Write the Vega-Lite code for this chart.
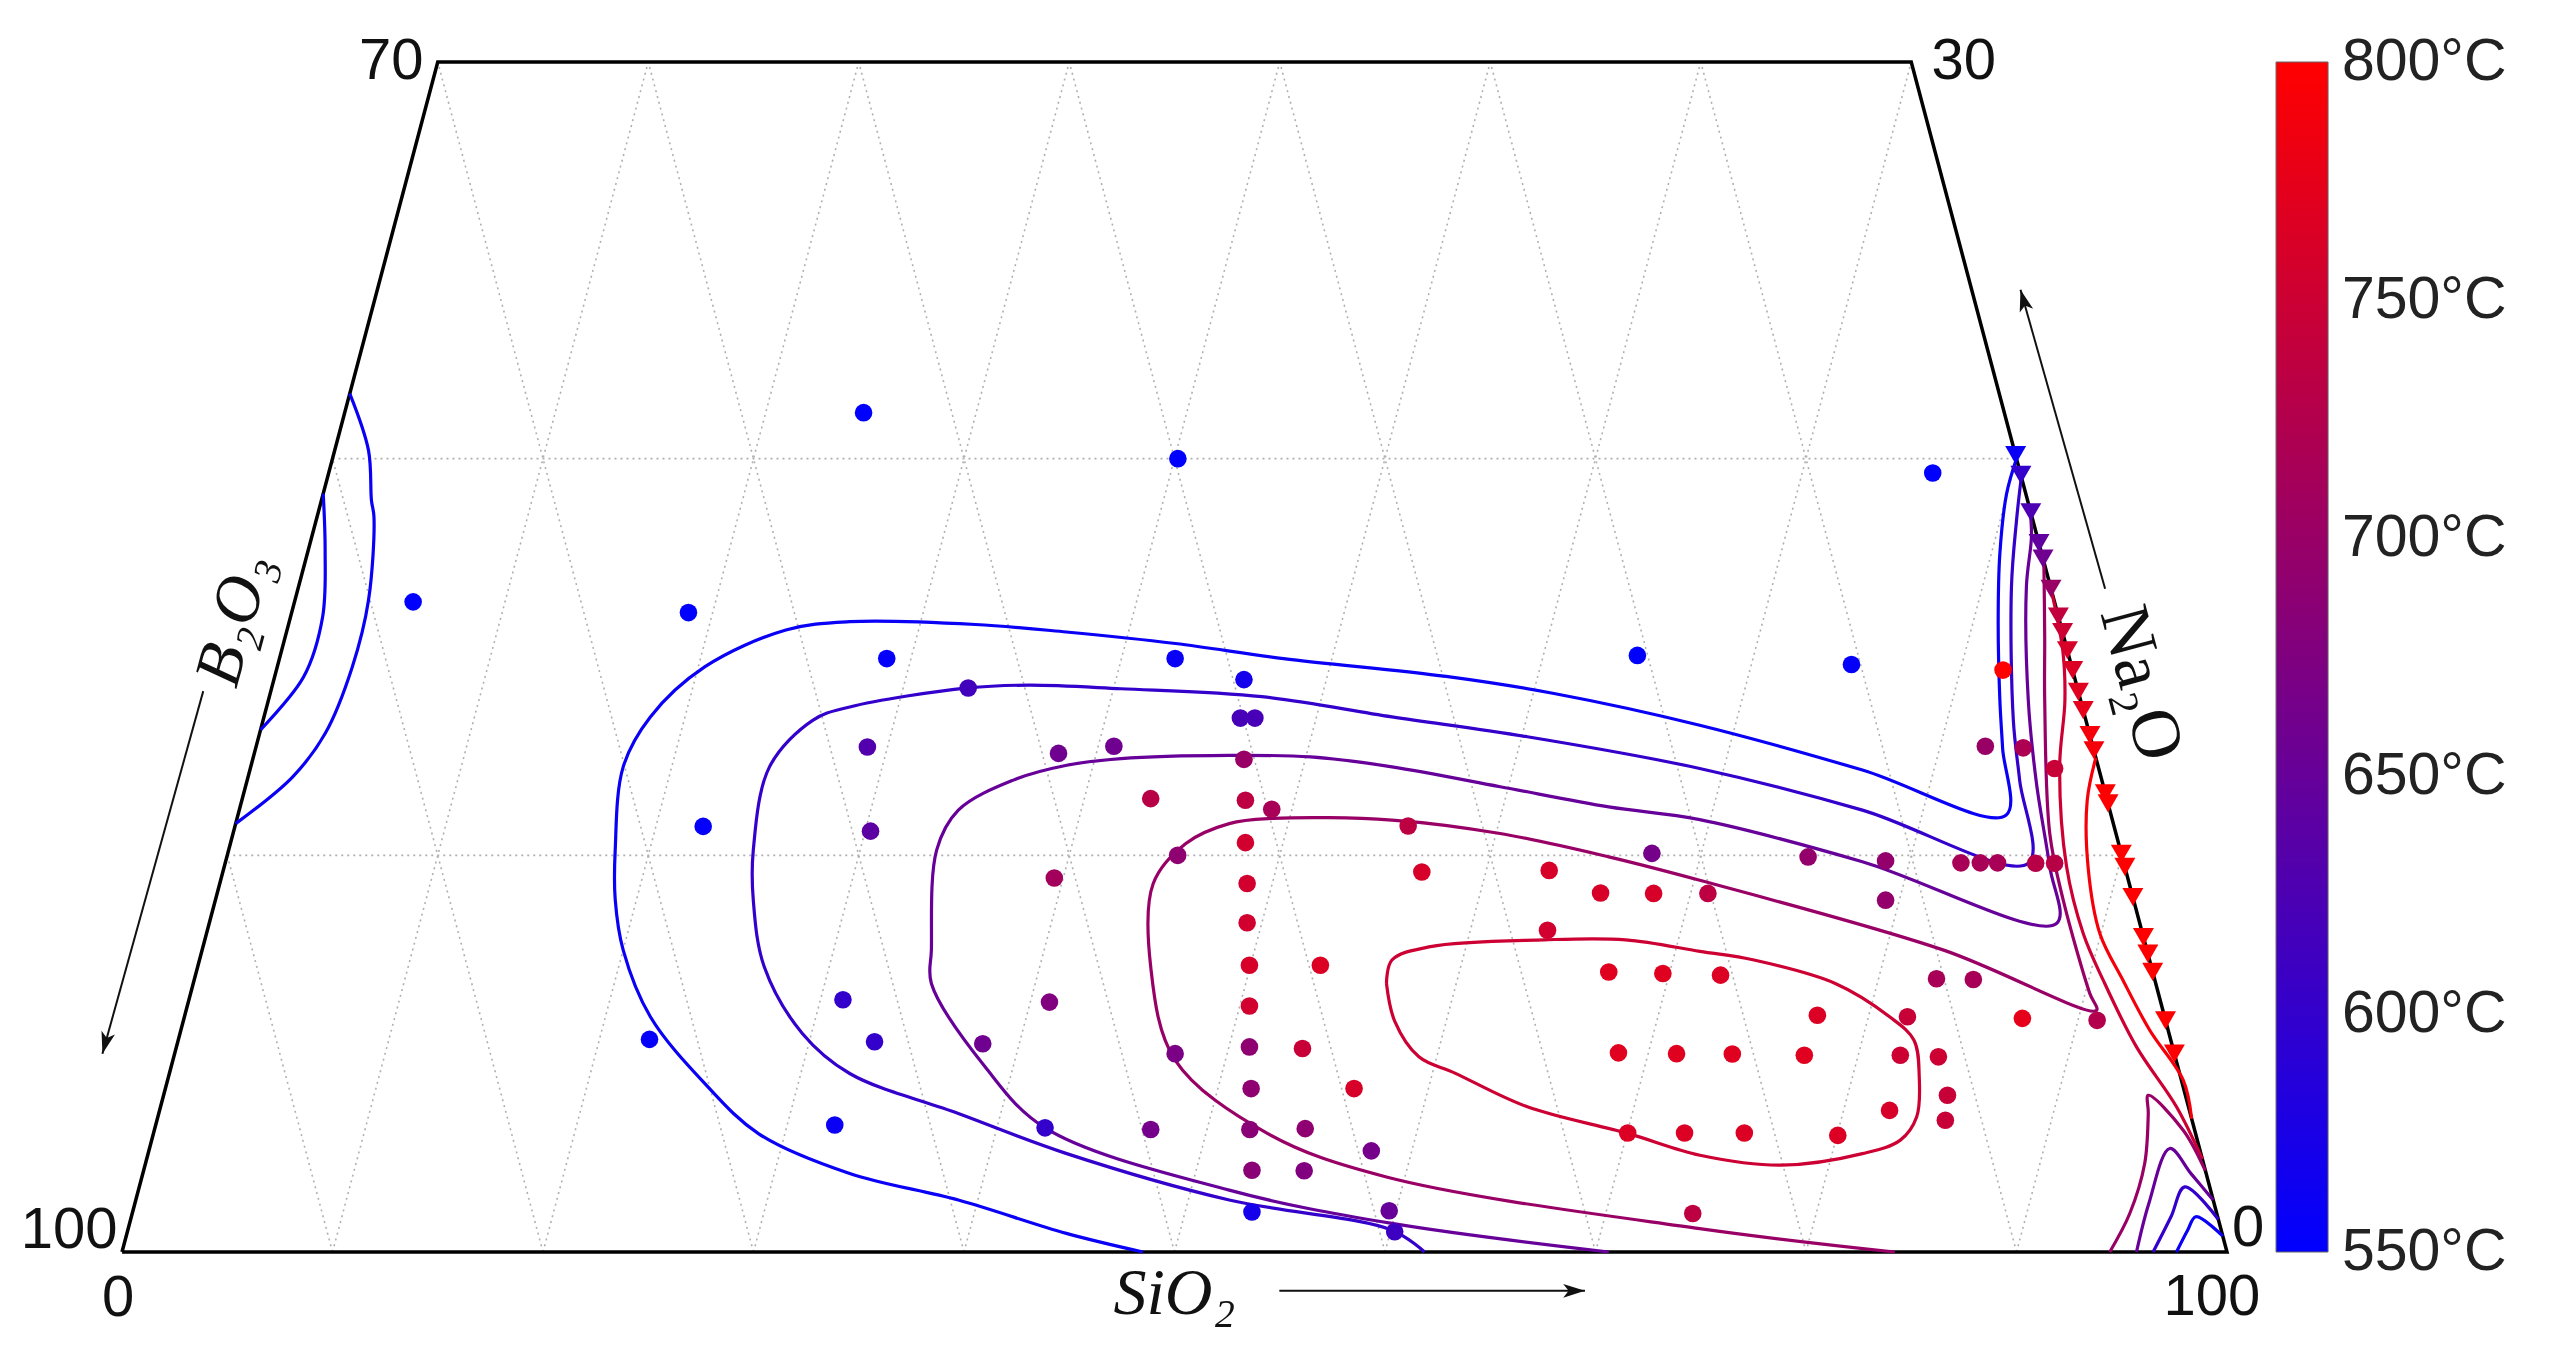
{
  "$schema": "https://vega.github.io/schema/vega-lite/v6.json",
  "width": 2105,
  "height": 1190,
  "autosize": {"type": "none"},
  "padding": {"left": 122, "top": 62, "right": 322, "bottom": 100},
  "background": "#ffffff",
  "config": {"view": {"stroke": null}},
  "resolve": {"scale": {"y": "independent"}},
  "datasets": {
    "gridlines": [
      {"g": "h10", "x": 5, "y": 10, "x2": 95, "y2": 10},
      {"g": "h20", "x": 10, "y": 20, "x2": 90, "y2": 20},
      {"g": "s10", "x": 10, "y": 0, "x2": 25, "y2": 30},
      {"g": "s20", "x": 20, "y": 0, "x2": 35, "y2": 30},
      {"g": "s30", "x": 30, "y": 0, "x2": 45, "y2": 30},
      {"g": "s40", "x": 40, "y": 0, "x2": 55, "y2": 30},
      {"g": "s50", "x": 50, "y": 0, "x2": 65, "y2": 30},
      {"g": "s60", "x": 60, "y": 0, "x2": 75, "y2": 30},
      {"g": "s70", "x": 70, "y": 0, "x2": 85, "y2": 30},
      {"g": "s80", "x": 80, "y": 0, "x2": 90, "y2": 20},
      {"g": "s90", "x": 90, "y": 0, "x2": 95, "y2": 10},
      {"g": "b90", "x": 10, "y": 0, "x2": 5, "y2": 10},
      {"g": "b80", "x": 20, "y": 0, "x2": 10, "y2": 20},
      {"g": "b70", "x": 30, "y": 0, "x2": 15, "y2": 30},
      {"g": "b60", "x": 40, "y": 0, "x2": 25, "y2": 30},
      {"g": "b50", "x": 50, "y": 0, "x2": 35, "y2": 30},
      {"g": "b40", "x": 60, "y": 0, "x2": 45, "y2": 30},
      {"g": "b30", "x": 70, "y": 0, "x2": 55, "y2": 30},
      {"g": "b20", "x": 80, "y": 0, "x2": 65, "y2": 30},
      {"g": "b10", "x": 90, "y": 0, "x2": 75, "y2": 30}
    ],
    "frame": [
      {"i": 0, "x": 0, "y": 0},
      {"i": 1, "x": 100, "y": 0},
      {"i": 2, "x": 85, "y": 30},
      {"i": 3, "x": 15, "y": 30},
      {"i": 4, "x": 0, "y": 0}
    ],
    "contours": [
      {"c": "C1", "t": 560, "i": 0, "x": 48.5, "y": 0},
      {"c": "C1", "t": 560, "i": 1, "x": 44.86, "y": 0.47},
      {"c": "C1", "t": 560, "i": 2, "x": 39.73, "y": 1.31},
      {"c": "C1", "t": 560, "i": 3, "x": 34.57, "y": 1.98},
      {"c": "C1", "t": 560, "i": 4, "x": 30.25, "y": 2.98},
      {"c": "C1", "t": 560, "i": 5, "x": 27.68, "y": 4.25},
      {"c": "C1", "t": 560, "i": 6, "x": 25.1, "y": 5.93},
      {"c": "C1", "t": 560, "i": 7, "x": 23.81, "y": 7.61},
      {"c": "C1", "t": 560, "i": 8, "x": 23.43, "y": 8.89},
      {"c": "C1", "t": 560, "i": 9, "x": 23.43, "y": 10.13},
      {"c": "C1", "t": 560, "i": 10, "x": 23.81, "y": 12.23},
      {"c": "C1", "t": 560, "i": 11, "x": 25.1, "y": 13.49},
      {"c": "C1", "t": 560, "i": 12, "x": 27.68, "y": 14.75},
      {"c": "C1", "t": 560, "i": 13, "x": 31.54, "y": 15.68},
      {"c": "C1", "t": 560, "i": 14, "x": 34.57, "y": 15.89},
      {"c": "C1", "t": 560, "i": 15, "x": 40.54, "y": 15.82},
      {"c": "C1", "t": 560, "i": 16, "x": 44.86, "y": 15.63},
      {"c": "C1", "t": 560, "i": 17, "x": 50.04, "y": 15.34},
      {"c": "C1", "t": 560, "i": 18, "x": 55.18, "y": 14.96},
      {"c": "C1", "t": 560, "i": 19, "x": 62.9, "y": 14.51},
      {"c": "C1", "t": 560, "i": 20, "x": 68.03, "y": 14.08},
      {"c": "C1", "t": 560, "i": 21, "x": 74.95, "y": 13.28},
      {"c": "C1", "t": 560, "i": 22, "x": 82.68, "y": 12.15},
      {"c": "C1", "t": 560, "i": 23, "x": 89.5, "y": 11.01},
      {"c": "C1", "t": 560, "i": 24, "x": 89.34, "y": 12.7},
      {"c": "C1", "t": 560, "i": 25, "x": 89.21, "y": 13.91},
      {"c": "C1", "t": 560, "i": 26, "x": 89.13, "y": 15.93},
      {"c": "C1", "t": 560, "i": 27, "x": 89.21, "y": 17.61},
      {"c": "C1", "t": 560, "i": 28, "x": 89.53, "y": 19.12},
      {"c": "C1", "t": 560, "i": 29, "x": 90.0, "y": 20.0},

      {"c": "C2", "t": 600, "i": 0, "x": 61.88, "y": 0},
      {"c": "C2", "t": 600, "i": 1, "x": 60.33, "y": 0.55},
      {"c": "C2", "t": 600, "i": 2, "x": 52.6, "y": 1.31},
      {"c": "C2", "t": 600, "i": 3, "x": 44.88, "y": 2.48},
      {"c": "C2", "t": 600, "i": 4, "x": 39.73, "y": 3.49},
      {"c": "C2", "t": 600, "i": 5, "x": 34.57, "y": 4.5},
      {"c": "C2", "t": 600, "i": 6, "x": 32.32, "y": 5.51},
      {"c": "C2", "t": 600, "i": 7, "x": 30.51, "y": 7.19},
      {"c": "C2", "t": 600, "i": 8, "x": 29.99, "y": 8.87},
      {"c": "C2", "t": 600, "i": 9, "x": 29.99, "y": 10.13},
      {"c": "C2", "t": 600, "i": 10, "x": 30.76, "y": 12.23},
      {"c": "C2", "t": 600, "i": 11, "x": 32.83, "y": 13.41},
      {"c": "C2", "t": 600, "i": 12, "x": 34.57, "y": 13.74},
      {"c": "C2", "t": 600, "i": 13, "x": 40.2, "y": 14.22},
      {"c": "C2", "t": 600, "i": 14, "x": 43.08, "y": 14.29},
      {"c": "C2", "t": 600, "i": 15, "x": 47.46, "y": 14.2},
      {"c": "C2", "t": 600, "i": 16, "x": 54.15, "y": 14.0},
      {"c": "C2", "t": 600, "i": 17, "x": 60.33, "y": 13.49},
      {"c": "C2", "t": 600, "i": 18, "x": 66.76, "y": 12.99},
      {"c": "C2", "t": 600, "i": 19, "x": 74.95, "y": 12.19},
      {"c": "C2", "t": 600, "i": 20, "x": 82.68, "y": 11.14},
      {"c": "C2", "t": 600, "i": 21, "x": 90.56, "y": 9.8},
      {"c": "C2", "t": 600, "i": 22, "x": 90.15, "y": 11.89},
      {"c": "C2", "t": 600, "i": 23, "x": 89.85, "y": 13.4},
      {"c": "C2", "t": 600, "i": 24, "x": 89.76, "y": 16.76},
      {"c": "C2", "t": 600, "i": 25, "x": 90.0, "y": 18.44},
      {"c": "C2", "t": 600, "i": 26, "x": 90.23, "y": 19.54},

      {"c": "C3", "t": 650, "i": 0, "x": 70.63, "y": 0},
      {"c": "C3", "t": 650, "i": 1, "x": 60.33, "y": 0.72},
      {"c": "C3", "t": 650, "i": 2, "x": 52.6, "y": 1.56},
      {"c": "C3", "t": 650, "i": 3, "x": 43.85, "y": 3.13},
      {"c": "C3", "t": 650, "i": 4, "x": 41.0, "y": 4.67},
      {"c": "C3", "t": 650, "i": 5, "x": 38.45, "y": 6.77},
      {"c": "C3", "t": 650, "i": 6, "x": 38.45, "y": 7.61},
      {"c": "C3", "t": 650, "i": 7, "x": 38.7, "y": 10.13},
      {"c": "C3", "t": 650, "i": 8, "x": 39.73, "y": 11.14},
      {"c": "C3", "t": 650, "i": 9, "x": 42.31, "y": 11.89},
      {"c": "C3", "t": 650, "i": 10, "x": 44.88, "y": 12.27},
      {"c": "C3", "t": 650, "i": 11, "x": 47.46, "y": 12.44},
      {"c": "C3", "t": 650, "i": 12, "x": 52.6, "y": 12.52},
      {"c": "C3", "t": 650, "i": 13, "x": 56.46, "y": 12.48},
      {"c": "C3", "t": 650, "i": 14, "x": 60.33, "y": 12.23},
      {"c": "C3", "t": 650, "i": 15, "x": 65.47, "y": 11.73},
      {"c": "C3", "t": 650, "i": 16, "x": 70.63, "y": 11.22},
      {"c": "C3", "t": 650, "i": 17, "x": 74.95, "y": 10.9},
      {"c": "C3", "t": 650, "i": 18, "x": 82.68, "y": 9.84},
      {"c": "C3", "t": 650, "i": 19, "x": 91.9, "y": 8.28},
      {"c": "C3", "t": 650, "i": 20, "x": 91.58, "y": 9.71},
      {"c": "C3", "t": 650, "i": 21, "x": 90.95, "y": 11.81},
      {"c": "C3", "t": 650, "i": 22, "x": 90.56, "y": 13.91},
      {"c": "C3", "t": 650, "i": 23, "x": 90.47, "y": 16.77},
      {"c": "C3", "t": 650, "i": 24, "x": 90.71, "y": 18.03},
      {"c": "C3", "t": 650, "i": 25, "x": 90.65, "y": 18.7},

      {"c": "C4", "t": 700, "i": 0, "x": 84.22, "y": 0},
      {"c": "C4", "t": 700, "i": 1, "x": 74.95, "y": 0.59},
      {"c": "C4", "t": 700, "i": 2, "x": 60.07, "y": 1.89},
      {"c": "C4", "t": 700, "i": 3, "x": 54.41, "y": 2.99},
      {"c": "C4", "t": 700, "i": 4, "x": 50.03, "y": 4.84},
      {"c": "C4", "t": 700, "i": 5, "x": 48.87, "y": 7.19},
      {"c": "C4", "t": 700, "i": 6, "x": 48.99, "y": 9.29},
      {"c": "C4", "t": 700, "i": 7, "x": 50.54, "y": 10.3},
      {"c": "C4", "t": 700, "i": 8, "x": 52.6, "y": 10.8},
      {"c": "C4", "t": 700, "i": 9, "x": 54.66, "y": 10.93},
      {"c": "C4", "t": 700, "i": 10, "x": 60.33, "y": 10.89},
      {"c": "C4", "t": 700, "i": 11, "x": 65.47, "y": 10.55},
      {"c": "C4", "t": 700, "i": 12, "x": 70.63, "y": 9.96},
      {"c": "C4", "t": 700, "i": 13, "x": 74.95, "y": 9.37},
      {"c": "C4", "t": 700, "i": 14, "x": 86.54, "y": 7.61},
      {"c": "C4", "t": 700, "i": 15, "x": 93.8, "y": 6.09},
      {"c": "C4", "t": 700, "i": 16, "x": 93.48, "y": 6.52},
      {"c": "C4", "t": 700, "i": 17, "x": 92.22, "y": 8.87},
      {"c": "C4", "t": 700, "i": 18, "x": 91.58, "y": 10.55},
      {"c": "C4", "t": 700, "i": 19, "x": 91.34, "y": 13.91},
      {"c": "C4", "t": 700, "i": 20, "x": 91.34, "y": 15.51},
      {"c": "C4", "t": 700, "i": 21, "x": 91.3, "y": 17.4},

      {"c": "C5", "t": 750, "i": 0, "x": 60.07, "y": 6.77},
      {"c": "C5", "t": 750, "i": 1, "x": 60.33, "y": 7.36},
      {"c": "C5", "t": 750, "i": 2, "x": 62.16, "y": 7.7},
      {"c": "C5", "t": 750, "i": 3, "x": 67.57, "y": 7.87},
      {"c": "C5", "t": 750, "i": 4, "x": 71.43, "y": 7.87},
      {"c": "C5", "t": 750, "i": 5, "x": 74.96, "y": 7.58},
      {"c": "C5", "t": 750, "i": 6, "x": 77.53, "y": 7.36},
      {"c": "C5", "t": 750, "i": 7, "x": 81.39, "y": 6.77},
      {"c": "C5", "t": 750, "i": 8, "x": 83.97, "y": 5.93},
      {"c": "C5", "t": 750, "i": 9, "x": 85.13, "y": 5.34},
      {"c": "C5", "t": 750, "i": 10, "x": 85.38, "y": 4.41},
      {"c": "C5", "t": 750, "i": 11, "x": 85.26, "y": 3.41},
      {"c": "C5", "t": 750, "i": 12, "x": 84.48, "y": 2.82},
      {"c": "C5", "t": 750, "i": 13, "x": 82.68, "y": 2.48},
      {"c": "C5", "t": 750, "i": 14, "x": 78.82, "y": 2.19},
      {"c": "C5", "t": 750, "i": 15, "x": 74.96, "y": 2.44},
      {"c": "C5", "t": 750, "i": 16, "x": 71.53, "y": 2.99},
      {"c": "C5", "t": 750, "i": 17, "x": 66.76, "y": 3.66},
      {"c": "C5", "t": 750, "i": 18, "x": 63.32, "y": 4.51},
      {"c": "C5", "t": 750, "i": 19, "x": 61.61, "y": 4.92},
      {"c": "C5", "t": 750, "i": 20, "x": 60.46, "y": 5.82},
      {"c": "C5", "t": 750, "i": 21, "x": 60.07, "y": 6.77},

      {"c": "C5r", "t": 750, "i": 0, "x": 91.62, "y": 16.76},
      {"c": "C5r", "t": 750, "i": 1, "x": 92.2, "y": 15.16},
      {"c": "C5r", "t": 750, "i": 2, "x": 92.3, "y": 13.91},
      {"c": "C5r", "t": 750, "i": 3, "x": 92.05, "y": 12.23},
      {"c": "C5r", "t": 750, "i": 4, "x": 92.38, "y": 9.71},
      {"c": "C5r", "t": 750, "i": 5, "x": 93.17, "y": 8.03},
      {"c": "C5r", "t": 750, "i": 6, "x": 94.13, "y": 6.84},
      {"c": "C5r", "t": 750, "i": 7, "x": 95.7, "y": 5.17},
      {"c": "C5r", "t": 750, "i": 8, "x": 97.6, "y": 3.66},
      {"c": "C5r", "t": 750, "i": 9, "x": 98.83, "y": 2.34},

      {"c": "R", "t": 790, "i": 0, "x": 93.77, "y": 12.46},
      {"c": "R", "t": 790, "i": 1, "x": 93.36, "y": 11.39},
      {"c": "R", "t": 790, "i": 2, "x": 93.4, "y": 9.71},
      {"c": "R", "t": 790, "i": 3, "x": 93.96, "y": 8.03},
      {"c": "R", "t": 790, "i": 4, "x": 95.07, "y": 6.84},
      {"c": "R", "t": 790, "i": 5, "x": 96.33, "y": 5.59},
      {"c": "R", "t": 790, "i": 6, "x": 97.92, "y": 4.33},
      {"c": "R", "t": 790, "i": 7, "x": 98.32, "y": 3.36},

      {"c": "A1", "t": 560, "i": 0, "x": 10.82, "y": 21.64},
      {"c": "A1", "t": 560, "i": 1, "x": 11.71, "y": 20.21},
      {"c": "A1", "t": 560, "i": 2, "x": 11.85, "y": 18.95},
      {"c": "A1", "t": 560, "i": 3, "x": 11.97, "y": 18.53},
      {"c": "A1", "t": 560, "i": 4, "x": 11.71, "y": 16.43},
      {"c": "A1", "t": 560, "i": 5, "x": 10.94, "y": 14.75},
      {"c": "A1", "t": 560, "i": 6, "x": 9.65, "y": 13.07},
      {"c": "A1", "t": 560, "i": 7, "x": 8.11, "y": 11.98},
      {"c": "A1", "t": 560, "i": 8, "x": 5.4, "y": 10.8},

      {"c": "A2", "t": 560, "i": 0, "x": 9.56, "y": 19.12},
      {"c": "A2", "t": 560, "i": 1, "x": 9.65, "y": 17.69},
      {"c": "A2", "t": 560, "i": 2, "x": 9.53, "y": 16.01},
      {"c": "A2", "t": 560, "i": 3, "x": 8.63, "y": 14.5},
      {"c": "A2", "t": 560, "i": 4, "x": 6.58, "y": 13.16},

      {"c": "V1", "t": 700, "i": 0, "x": 94.43, "y": 0},
      {"c": "V1", "t": 700, "i": 1, "x": 95.38, "y": 0.97},
      {"c": "V1", "t": 700, "i": 2, "x": 96.09, "y": 2.23},
      {"c": "V1", "t": 700, "i": 3, "x": 96.26, "y": 3.49},
      {"c": "V1", "t": 700, "i": 4, "x": 96.26, "y": 3.95},
      {"c": "V1", "t": 700, "i": 5, "x": 97.92, "y": 3.07},
      {"c": "V1", "t": 700, "i": 6, "x": 98.97, "y": 2.05},

      {"c": "V2", "t": 650, "i": 0, "x": 95.7, "y": 0},
      {"c": "V2", "t": 650, "i": 1, "x": 96.29, "y": 1.23},
      {"c": "V2", "t": 650, "i": 2, "x": 97.28, "y": 2.61},
      {"c": "V2", "t": 650, "i": 3, "x": 98.3, "y": 1.97},
      {"c": "V2", "t": 650, "i": 4, "x": 99.34, "y": 1.31},

      {"c": "V3", "t": 600, "i": 0, "x": 96.49, "y": 0},
      {"c": "V3", "t": 600, "i": 1, "x": 97.35, "y": 0.9},
      {"c": "V3", "t": 600, "i": 2, "x": 97.99, "y": 1.64},
      {"c": "V3", "t": 600, "i": 3, "x": 99.59, "y": 0.82},

      {"c": "V4", "t": 560, "i": 0, "x": 97.6, "y": 0},
      {"c": "V4", "t": 560, "i": 1, "x": 98.13, "y": 0.55},
      {"c": "V4", "t": 560, "i": 2, "x": 98.52, "y": 0.89},
      {"c": "V4", "t": 560, "i": 3, "x": 99.8, "y": 0.4}
    ],
    "circles": [
      {"x": 35.23, "y": 21.16, "t": 550},
      {"x": 50.16, "y": 20.0, "t": 550},
      {"x": 86.02, "y": 19.64, "t": 550},
      {"x": 13.83, "y": 16.39, "t": 550},
      {"x": 26.91, "y": 16.12, "t": 550},
      {"x": 36.33, "y": 14.96, "t": 555},
      {"x": 50.03, "y": 14.96, "t": 560},
      {"x": 53.3, "y": 14.43, "t": 570},
      {"x": 71.99, "y": 15.04, "t": 550},
      {"x": 82.16, "y": 14.81, "t": 555},
      {"x": 27.61, "y": 10.73, "t": 555},
      {"x": 25.06, "y": 5.36, "t": 555},
      {"x": 33.86, "y": 3.2, "t": 560},
      {"x": 53.68, "y": 1.01, "t": 570},
      {"x": 34.25, "y": 6.36, "t": 600},
      {"x": 35.75, "y": 5.3, "t": 600},
      {"x": 40.2, "y": 14.22, "t": 615},
      {"x": 35.41, "y": 12.73, "t": 630},
      {"x": 35.56, "y": 10.61, "t": 640},
      {"x": 44.49, "y": 12.57, "t": 660},
      {"x": 47.12, "y": 12.75, "t": 660},
      {"x": 48.87, "y": 11.43, "t": 730},
      {"x": 53.13, "y": 13.46, "t": 620},
      {"x": 53.82, "y": 13.46, "t": 620},
      {"x": 53.3, "y": 12.42, "t": 700},
      {"x": 53.37, "y": 11.39, "t": 735},
      {"x": 54.62, "y": 11.16, "t": 715},
      {"x": 61.1, "y": 10.74, "t": 735},
      {"x": 53.37, "y": 10.32, "t": 755},
      {"x": 50.15, "y": 10.0, "t": 690},
      {"x": 72.68, "y": 10.05, "t": 665},
      {"x": 44.29, "y": 9.43, "t": 710},
      {"x": 61.75, "y": 9.58, "t": 760},
      {"x": 67.8, "y": 9.62, "t": 760},
      {"x": 70.24, "y": 9.05, "t": 760},
      {"x": 72.76, "y": 9.04, "t": 760},
      {"x": 75.34, "y": 9.04, "t": 735},
      {"x": 53.45, "y": 9.29, "t": 755},
      {"x": 53.45, "y": 8.3, "t": 755},
      {"x": 67.72, "y": 8.11, "t": 755},
      {"x": 53.56, "y": 7.23, "t": 760},
      {"x": 56.93, "y": 7.23, "t": 765},
      {"x": 70.63, "y": 7.06, "t": 770},
      {"x": 73.2, "y": 7.02, "t": 770},
      {"x": 53.56, "y": 6.2, "t": 755},
      {"x": 44.06, "y": 6.3, "t": 675},
      {"x": 40.89, "y": 5.25, "t": 660},
      {"x": 50.03, "y": 5.0, "t": 670},
      {"x": 53.56, "y": 5.17, "t": 690},
      {"x": 56.08, "y": 5.13, "t": 745},
      {"x": 71.09, "y": 5.02, "t": 770},
      {"x": 73.85, "y": 5.0, "t": 770},
      {"x": 53.64, "y": 4.12, "t": 690},
      {"x": 58.53, "y": 4.12, "t": 760},
      {"x": 43.85, "y": 3.13, "t": 600},
      {"x": 48.87, "y": 3.09, "t": 665},
      {"x": 53.58, "y": 3.09, "t": 685},
      {"x": 56.21, "y": 3.11, "t": 690},
      {"x": 71.53, "y": 3.0, "t": 765},
      {"x": 74.23, "y": 3.0, "t": 765},
      {"x": 59.35, "y": 2.55, "t": 665},
      {"x": 53.68, "y": 2.06, "t": 685},
      {"x": 56.16, "y": 2.05, "t": 675},
      {"x": 60.2, "y": 1.04, "t": 650},
      {"x": 60.46, "y": 0.51, "t": 610},
      {"x": 74.62, "y": 0.97, "t": 735},
      {"x": 89.36, "y": 14.67, "t": 800},
      {"x": 88.52, "y": 12.75, "t": 700},
      {"x": 90.32, "y": 12.71, "t": 720},
      {"x": 91.81, "y": 12.19, "t": 745},
      {"x": 80.1, "y": 9.96, "t": 695},
      {"x": 83.78, "y": 9.86, "t": 695},
      {"x": 87.36, "y": 9.81, "t": 715},
      {"x": 88.28, "y": 9.81, "t": 715},
      {"x": 89.1, "y": 9.81, "t": 715},
      {"x": 90.91, "y": 9.8, "t": 730},
      {"x": 91.81, "y": 9.8, "t": 730},
      {"x": 83.78, "y": 8.87, "t": 695},
      {"x": 75.94, "y": 6.98, "t": 765},
      {"x": 86.2, "y": 6.89, "t": 715},
      {"x": 87.95, "y": 6.87, "t": 715},
      {"x": 80.54, "y": 5.97, "t": 765},
      {"x": 84.82, "y": 5.93, "t": 745},
      {"x": 90.28, "y": 5.89, "t": 775},
      {"x": 93.83, "y": 5.84, "t": 725},
      {"x": 76.5, "y": 4.99, "t": 770},
      {"x": 79.92, "y": 4.96, "t": 770},
      {"x": 84.48, "y": 4.96, "t": 750},
      {"x": 86.29, "y": 4.92, "t": 750},
      {"x": 86.72, "y": 3.95, "t": 745},
      {"x": 83.97, "y": 3.57, "t": 760},
      {"x": 86.62, "y": 3.32, "t": 745},
      {"x": 77.07, "y": 3.0, "t": 765},
      {"x": 81.51, "y": 2.94, "t": 765}
    ],
    "triangles": [
      {"x": 89.96, "y": 20.09, "t": 560},
      {"x": 90.21, "y": 19.59, "t": 600},
      {"x": 90.68, "y": 18.65, "t": 625},
      {"x": 91.07, "y": 17.87, "t": 645},
      {"x": 91.26, "y": 17.48, "t": 660},
      {"x": 91.64, "y": 16.72, "t": 700},
      {"x": 91.99, "y": 16.02, "t": 740},
      {"x": 92.19, "y": 15.63, "t": 750},
      {"x": 92.42, "y": 15.17, "t": 760},
      {"x": 92.67, "y": 14.67, "t": 765},
      {"x": 92.94, "y": 14.12, "t": 770},
      {"x": 93.17, "y": 13.66, "t": 775},
      {"x": 93.49, "y": 13.03, "t": 790},
      {"x": 93.68, "y": 12.65, "t": 790},
      {"x": 94.22, "y": 11.56, "t": 800},
      {"x": 94.35, "y": 11.31, "t": 800},
      {"x": 94.98, "y": 10.04, "t": 800},
      {"x": 95.15, "y": 9.71, "t": 800},
      {"x": 95.53, "y": 8.95, "t": 800},
      {"x": 96.03, "y": 7.94, "t": 800},
      {"x": 96.24, "y": 7.52, "t": 800},
      {"x": 96.47, "y": 7.06, "t": 800},
      {"x": 97.08, "y": 5.84, "t": 800},
      {"x": 97.5, "y": 5.0, "t": 800}
    ],
    "arrows": [
      {"a": "si", "x": 54.98, "y": -0.98, "x2": 69.5, "y2": -0.98},
      {"a": "b", "x": 3.86, "y": 14.14, "x2": -0.93, "y2": 5.0},
      {"a": "na", "x": 94.21, "y": 16.72, "x2": 90.19, "y2": 24.26}
    ],
    "heads": [
      {"a": "si", "x": 69.5, "y": -0.98},
      {"a": "b", "x": -0.93, "y": 5.0},
      {"a": "na", "x": 90.19, "y": 24.26}
    ],
    "ticks": [
      {"label": "70", "x": 12.79, "y": 30.0},
      {"label": "30", "x": 87.49, "y": 30.0},
      {"label": "100", "x": -2.51, "y": 0.53},
      {"label": "0", "x": -0.19, "y": -1.19},
      {"label": "100", "x": 99.28, "y": -1.15},
      {"label": "0", "x": 101.0, "y": 0.57}
    ],
    "names": [
      {"a": "si", "label": "SiO₂", "x": 50.0, "y": -1.05},
      {"a": "b", "label": "B₂O₃", "x": 5.33, "y": 15.94},
      {"a": "na", "label": "Na₂O", "x": 95.9, "y": 14.34}
    ],
    "colorbar": [
      {"x": 102.33, "x2": 104.8, "lo": 550, "hi": 800}
    ],
    "colorbarLabels": [
      {"v": 550, "label": "550°C", "x": 105.46},
      {"v": 600, "label": "600°C", "x": 105.46},
      {"v": 650, "label": "650°C", "x": 105.46},
      {"v": 700, "label": "700°C", "x": 105.46},
      {"v": 750, "label": "750°C", "x": 105.46},
      {"v": 800, "label": "800°C", "x": 105.46}
    ]
  },
  "layer": [
    {
      "data": {"name": "gridlines"},
      "mark": {"type": "rule", "color": "#b0b0b0", "strokeWidth": 1.6, "strokeDash": [2, 4]},
      "encoding": {
        "x": {"field": "x", "type": "quantitative", "scale": {"domain": [0, 100], "nice": false, "zero": false}, "axis": null},
        "y": {"field": "y", "type": "quantitative", "scale": {"domain": [0, 30], "nice": false, "zero": false}, "axis": null},
        "x2": {"field": "x2"},
        "y2": {"field": "y2"}
      }
    },
    {
      "data": {"name": "frame"},
      "mark": {"type": "line", "color": "#000000", "strokeWidth": 3.5, "strokeJoin": "miter"},
      "encoding": {
        "x": {"field": "x", "type": "quantitative", "scale": {"domain": [0, 100], "nice": false, "zero": false}, "axis": null},
        "y": {"field": "y", "type": "quantitative", "scale": {"domain": [0, 30], "nice": false, "zero": false}, "axis": null},
        "order": {"field": "i", "type": "quantitative"}
      }
    },
    {
      "data": {"name": "contours"},
      "mark": {"type": "line", "strokeWidth": 3.2, "interpolate": "catmull-rom"},
      "encoding": {
        "x": {"field": "x", "type": "quantitative", "scale": {"domain": [0, 100], "nice": false, "zero": false}, "axis": null},
        "y": {"field": "y", "type": "quantitative", "scale": {"domain": [0, 30], "nice": false, "zero": false}, "axis": null},
        "detail": {"field": "c", "type": "nominal"},
        "order": {"field": "i", "type": "quantitative"},
        "stroke": {"field": "t", "type": "quantitative", "scale": {"domain": [550, 800], "range": ["#0000ff", "#ff0000"], "interpolate": "rgb"}, "legend": null}
      }
    },
    {
      "data": {"name": "circles"},
      "mark": {"type": "point", "shape": "circle", "filled": true, "size": 310, "opacity": 1, "strokeWidth": 0},
      "encoding": {
        "x": {"field": "x", "type": "quantitative", "scale": {"domain": [0, 100], "nice": false, "zero": false}, "axis": null},
        "y": {"field": "y", "type": "quantitative", "scale": {"domain": [0, 30], "nice": false, "zero": false}, "axis": null},
        "fill": {"field": "t", "type": "quantitative", "scale": {"domain": [550, 800], "range": ["#0000ff", "#ff0000"], "interpolate": "rgb"}, "legend": null}
      }
    },
    {
      "data": {"name": "triangles"},
      "mark": {"type": "point", "shape": "triangle-down", "filled": true, "size": 440, "opacity": 1, "strokeWidth": 0},
      "encoding": {
        "x": {"field": "x", "type": "quantitative", "scale": {"domain": [0, 100], "nice": false, "zero": false}, "axis": null},
        "y": {"field": "y", "type": "quantitative", "scale": {"domain": [0, 30], "nice": false, "zero": false}, "axis": null},
        "fill": {"field": "t", "type": "quantitative", "scale": {"domain": [550, 800], "range": ["#0000ff", "#ff0000"], "interpolate": "rgb"}, "legend": null}
      }
    },
    {
      "data": {"name": "colorbar"},
      "mark": {"type": "rect", "fill": {"gradient": "linear", "x1": 0, "y1": 1, "x2": 0, "y2": 0, "stops": [{"offset": 0, "color": "#0000ff"}, {"offset": 1, "color": "#ff0000"}]}, "stroke": "#666666", "strokeWidth": 1},
      "encoding": {
        "x": {"field": "x", "type": "quantitative", "scale": {"domain": [0, 100], "nice": false, "zero": false}, "axis": null},
        "x2": {"field": "x2"},
        "y": {"field": "lo", "type": "quantitative", "scale": {"domain": [550, 800], "nice": false, "zero": false}, "axis": null},
        "y2": {"field": "hi"}
      }
    },
    {
      "data": {"name": "colorbarLabels"},
      "mark": {"type": "text", "font": "Liberation Sans", "fontSize": 59, "color": "#222222", "align": "left", "baseline": "middle"},
      "encoding": {
        "x": {"field": "x", "type": "quantitative", "scale": {"domain": [0, 100], "nice": false, "zero": false}, "axis": null},
        "y": {"field": "v", "type": "quantitative", "scale": {"domain": [550, 800], "nice": false, "zero": false}, "axis": null},
        "text": {"field": "label"}
      }
    },
    {
      "data": {"name": "arrows"},
      "mark": {"type": "rule", "color": "#111111", "strokeWidth": 2},
      "encoding": {
        "x": {"field": "x", "type": "quantitative", "scale": {"domain": [0, 100], "nice": false, "zero": false}, "axis": null},
        "y": {"field": "y", "type": "quantitative", "scale": {"domain": [0, 30], "nice": false, "zero": false}, "axis": null},
        "x2": {"field": "x2"},
        "y2": {"field": "y2"}
      }
    },
    {
      "data": {"name": "heads"},
      "transform": [{"filter": "datum.a == 'si'"}],
      "mark": {"type": "point", "shape": "M0,0L-1,-0.32L-0.75,0L-1,0.32Z", "filled": true, "size": 1900, "opacity": 1, "color": "#111111", "angle": 0},
      "encoding": {
        "x": {"field": "x", "type": "quantitative", "scale": {"domain": [0, 100], "nice": false, "zero": false}, "axis": null},
        "y": {"field": "y", "type": "quantitative", "scale": {"domain": [0, 30], "nice": false, "zero": false}, "axis": null}
      }
    },
    {
      "data": {"name": "heads"},
      "transform": [{"filter": "datum.a == 'b'"}],
      "mark": {"type": "point", "shape": "M0,0L-1,-0.32L-0.75,0L-1,0.32Z", "filled": true, "size": 1900, "opacity": 1, "color": "#111111", "angle": 105.5},
      "encoding": {
        "x": {"field": "x", "type": "quantitative", "scale": {"domain": [0, 100], "nice": false, "zero": false}, "axis": null},
        "y": {"field": "y", "type": "quantitative", "scale": {"domain": [0, 30], "nice": false, "zero": false}, "axis": null}
      }
    },
    {
      "data": {"name": "heads"},
      "transform": [{"filter": "datum.a == 'na'"}],
      "mark": {"type": "point", "shape": "M0,0L-1,-0.32L-0.75,0L-1,0.32Z", "filled": true, "size": 1900, "opacity": 1, "color": "#111111", "angle": 254.2},
      "encoding": {
        "x": {"field": "x", "type": "quantitative", "scale": {"domain": [0, 100], "nice": false, "zero": false}, "axis": null},
        "y": {"field": "y", "type": "quantitative", "scale": {"domain": [0, 30], "nice": false, "zero": false}, "axis": null}
      }
    },
    {
      "data": {"name": "ticks"},
      "mark": {"type": "text", "font": "Liberation Sans", "fontSize": 58, "color": "#111111", "align": "center", "baseline": "middle"},
      "encoding": {
        "x": {"field": "x", "type": "quantitative", "scale": {"domain": [0, 100], "nice": false, "zero": false}, "axis": null},
        "y": {"field": "y", "type": "quantitative", "scale": {"domain": [0, 30], "nice": false, "zero": false}, "axis": null},
        "text": {"field": "label"}
      }
    },
    {
      "data": {"name": "names"},
      "transform": [{"filter": "datum.a == 'si'"}],
      "mark": {"type": "text", "font": "Liberation Serif", "fontStyle": "italic", "fontSize": 66, "color": "#111111", "align": "center", "baseline": "middle", "angle": 0},
      "encoding": {
        "x": {"field": "x", "type": "quantitative", "scale": {"domain": [0, 100], "nice": false, "zero": false}, "axis": null},
        "y": {"field": "y", "type": "quantitative", "scale": {"domain": [0, 30], "nice": false, "zero": false}, "axis": null},
        "text": {"field": "label"}
      }
    },
    {
      "data": {"name": "names"},
      "transform": [{"filter": "datum.a == 'b'"}],
      "mark": {"type": "text", "font": "Liberation Serif", "fontStyle": "italic", "fontSize": 66, "color": "#111111", "align": "center", "baseline": "middle", "angle": 284.86},
      "encoding": {
        "x": {"field": "x", "type": "quantitative", "scale": {"domain": [0, 100], "nice": false, "zero": false}, "axis": null},
        "y": {"field": "y", "type": "quantitative", "scale": {"domain": [0, 30], "nice": false, "zero": false}, "axis": null},
        "text": {"field": "label"}
      }
    },
    {
      "data": {"name": "names"},
      "transform": [{"filter": "datum.a == 'na'"}],
      "mark": {"type": "text", "font": "Liberation Serif", "fontSize": 70, "color": "#111111", "align": "center", "baseline": "middle", "angle": 75.14},
      "encoding": {
        "x": {"field": "x", "type": "quantitative", "scale": {"domain": [0, 100], "nice": false, "zero": false}, "axis": null},
        "y": {"field": "y", "type": "quantitative", "scale": {"domain": [0, 30], "nice": false, "zero": false}, "axis": null},
        "text": {"field": "label"}
      }
    }
  ]
}
